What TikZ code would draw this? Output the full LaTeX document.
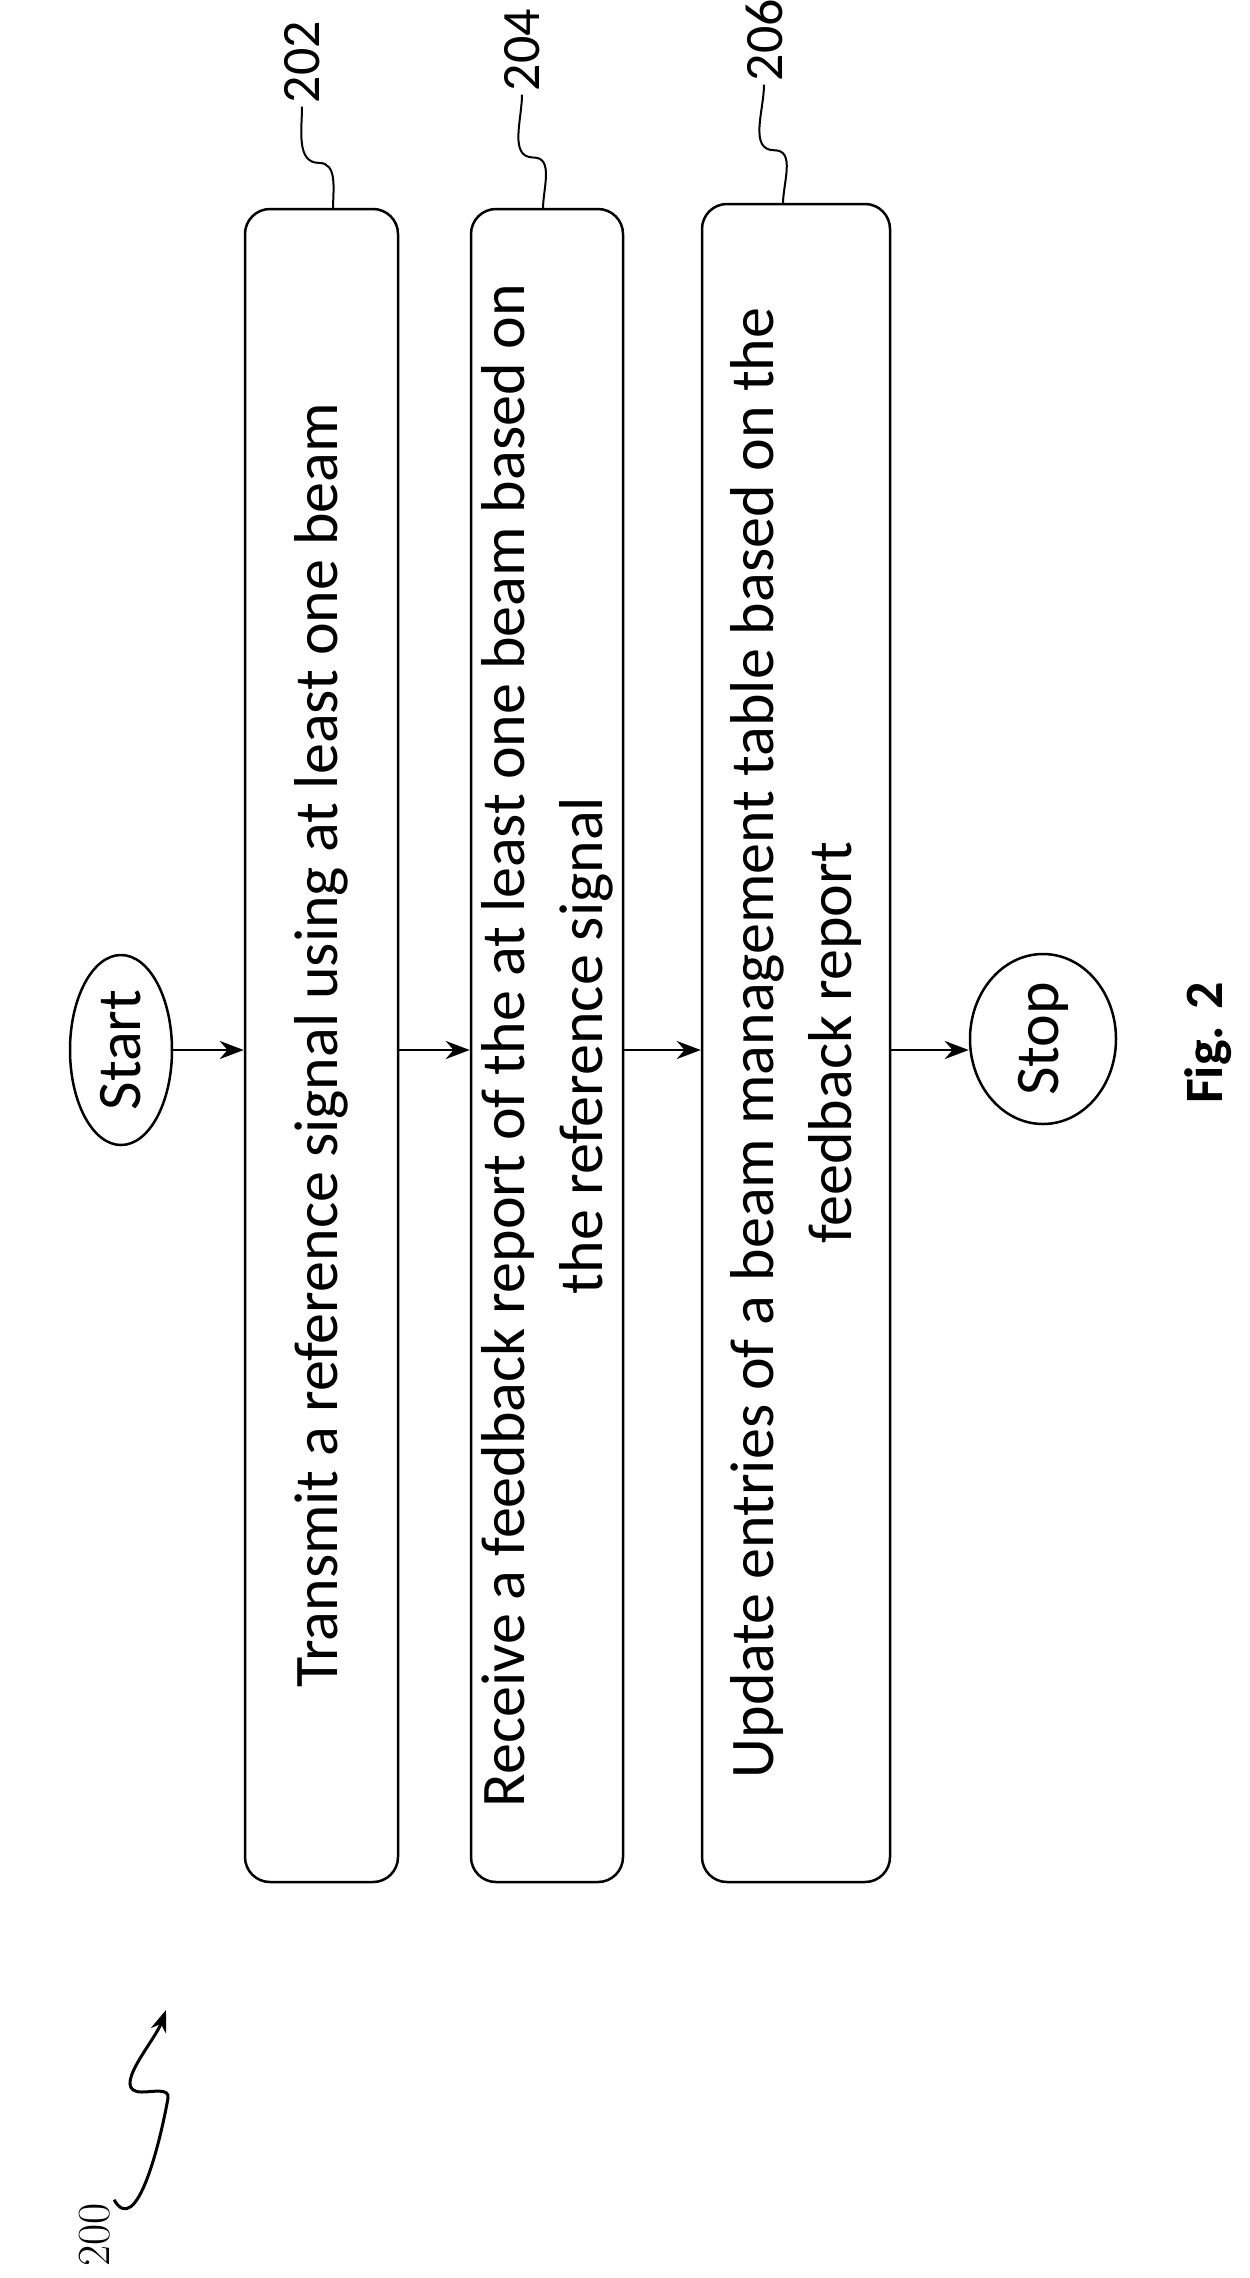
\documentclass[tikz,border=0pt]{standalone}
\usepackage{fontspec}
\setmainfont{Carlito}
\usetikzlibrary{shapes.geometric,arrows.meta,calc}
\begin{document}
\begin{tikzpicture}[x=1pt,y=-1pt,
  stepbox/.style={draw,line width=2.5pt,rounded corners=25pt,rotate=90,inner sep=0pt,align=center,font=\fontsize{62}{78}\selectfont},
  term/.style={draw,line width=2.5pt,ellipse,inner sep=0pt,rotate=90,font=\fontsize{62}{70}\selectfont},
  arr/.style={line width=2.5pt,-{Stealth[length=24pt,width=18pt]}},
  lead/.style={line width=2pt},
  lbl/.style={rotate=90,font=\fontsize{54}{60}\selectfont}]
\useasboundingbox (0,0) rectangle (1250,2278);
\node[term,minimum width=190pt,minimum height=102pt] (start) at (121,1050) {Start};
\node[stepbox,minimum width=1673pt,minimum height=153pt] (b202) at (321.5,1045.5) {Transmit a reference signal using at least one beam};
\node[stepbox,minimum width=1673pt,minimum height=152pt] (b204) at (547,1045.5) {Receive a feedback report of the at least one beam based on\\the reference signal};
\node[stepbox,minimum width=1678pt,minimum height=188pt] (b206) at (796,1043) {Update entries of a beam management table based on the\\feedback report};
\node[term,minimum width=170pt,minimum height=146pt] (stop) at (1043,1039) {Stop};
\node[rotate=90,font=\bfseries\fontsize{54}{60}\selectfont] (fig) at (1208,1043) {Fig. 2};
\draw[arr] (start.south) -- (start.south -| b202.north);
\draw[arr] (b202.south |- 0,1050) -- (b204.north |- 0,1050);
\draw[arr] (b204.south |- 0,1050) -- (b206.north |- 0,1050);
\draw[arr] (b206.south |- 0,1050) -- (stop.north |- 0,1050);
\node[lbl] (l202) at (302,62) {202};
\node[lbl] (l204) at (522,50) {204};
\node[lbl] (l206) at (764,40) {206};
\coordinate (t202) at (333,209);
\coordinate (t204) at (543,209);
\coordinate (t206) at (783,204);
\draw[lead] (l202.west) to[out=-90,in=180] ($(l202.west)!0.55!(t202)$) to[out=0,in=90] (t202);
\draw[lead] (l204.west) to[out=-90,in=180] ($(l204.west)!0.55!(t204)$) to[out=0,in=90] (t204);
\draw[lead] (l206.west) to[out=-90,in=180] ($(l206.west)!0.55!(t206)$) to[out=0,in=90] (t206);
\node[rotate=90,font=\fontfamily{lmr}\fontsize{46}{50}\selectfont] (l200) at (95,2235) {200};
\coordinate (z1) at (168,2098);
\coordinate (z2) at (142,2092);
\coordinate (tip) at (166,2010);
\draw[line width=3pt,-{Stealth[length=22pt,width=16pt]}] (l200.south east) to[out=-60,in=-100] (z1) to[out=80,in=0] (z2) to[out=180,in=-110] (tip);
\end{tikzpicture}
\end{document}
